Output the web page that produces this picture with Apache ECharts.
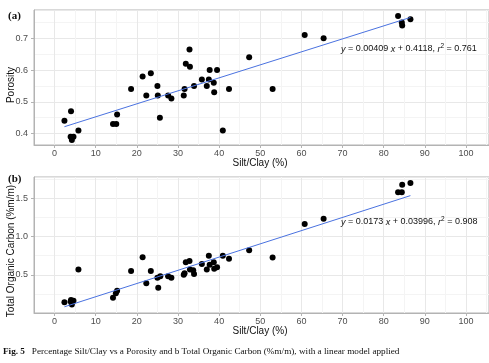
<!DOCTYPE html>
<html>
<head>
<meta charset="utf-8">
<script src="https://cdn.jsdelivr.net/npm/echarts@6/dist/echarts.min.js"></script>
<style>html,body{margin:0;padding:0;background:#fff;}#c{width:489px;height:363px;}</style>
</head>
<body>
<div id="c"></div>
<script>
// ---- data ----
const xTicks = [0, 10, 20, 30, 40, 50, 60, 70, 80, 90, 100];
const yTicksA = [0.4, 0.5, 0.6, 0.7];
const yTicksB = [0.5, 1.0, 1.5];

const siltA = [2.4, 4.0, 3.9, 4.6, 4.2, 5.8, 14.2, 15.0, 15.2, 18.6, 21.4, 22.3, 23.4, 25.0, 25.1, 25.6, 27.6, 28.4,
  31.4, 31.6, 31.9, 32.8, 32.9, 33.9, 35.8, 37.0, 37.5, 37.7, 38.7, 38.8, 39.5, 40.9, 42.4, 47.3, 53.0, 60.8, 65.4,
  83.5, 84.4, 84.5, 86.5];
const porosity = [0.44, 0.47, 0.39, 0.39, 0.38, 0.41, 0.43, 0.43, 0.46, 0.54, 0.58, 0.52, 0.59, 0.55, 0.52, 0.45, 0.52, 0.51,
  0.52, 0.54, 0.62, 0.665, 0.61, 0.55, 0.57, 0.55, 0.57, 0.60, 0.56, 0.53, 0.60, 0.41, 0.54, 0.64, 0.54, 0.71, 0.70,
  0.77, 0.75, 0.74, 0.76];

const siltB = [2.4, 4.0, 3.9, 4.6, 4.2, 5.8, 14.2, 14.9, 15.2, 18.6, 21.4, 22.3, 23.4, 25.0, 25.2, 25.7, 27.6, 28.4,
  31.4, 31.6, 31.9, 32.8, 32.9, 33.7, 33.9, 35.8, 37.0, 37.5, 37.7, 38.7, 38.8, 39.5, 40.9, 42.4, 47.3, 53.0, 60.8, 65.4,
  83.5, 84.4, 84.5, 86.5];
const toc = [0.14, 0.17, 0.15, 0.16, 0.11, 0.57, 0.20, 0.26, 0.29, 0.55, 0.73, 0.39, 0.55, 0.46, 0.33, 0.48, 0.48, 0.46,
  0.50, 0.52, 0.665, 0.68, 0.57, 0.56, 0.51, 0.64, 0.57, 0.75, 0.63, 0.665, 0.58, 0.60, 0.75, 0.71, 0.82, 0.725, 1.165, 1.235,
  1.58, 1.58, 1.68, 1.70];

// linear models printed on the chart: [slope, intercept, r2]
const fitA = [0.00409, 0.4118, 0.761];
const fitB = [0.0173, 0.03996, 0.908];

// ---- build ----
function pairs(xs, ys) { return xs.map((x, i) => [x, ys[i]]); }
function fitLine(xs, f) {
  const lo = Math.min(...xs), hi = Math.max(...xs);
  return [[lo, f[0] * lo + f[1]], [hi, f[0] * hi + f[1]]];
}

const MAJOR = '#e8e8e8', MINOR = '#f4f4f4', BORDER = '#b3b3b3', LAB = '#4d4d4d';
const FONT = 'Liberation Sans';

function visX(gi) {
  return {
    type: 'value', gridIndex: gi, min: -5, max: 105.6, position: 'bottom',
    axisLine: { show: true, onZero: false, lineStyle: { color: BORDER, width: 1 } },
    axisTick: { show: true, length: 3, customValues: xTicks, lineStyle: { color: BORDER } },
    axisLabel: { customValues: xTicks, color: LAB, fontSize: 9, fontFamily: FONT, margin: 4 },
    splitLine: { show: false }
  };
}
function gridX(gi) {
  return {
    type: 'value', gridIndex: gi, min: -5, max: 105.6, interval: 5, position: 'top',
    axisLine: { show: false, onZero: false }, axisTick: { show: false }, axisLabel: { show: false },
    splitLine: { show: true, lineStyle: { color: [MINOR, MAJOR], width: 1 } }
  };
}
function visY(gi, mn, mx, ticks, dec) {
  return {
    type: 'value', gridIndex: gi, min: mn, max: mx, position: 'left',
    axisLine: { show: true, onZero: false, lineStyle: { color: BORDER, width: 1 } },
    axisTick: { show: true, length: 3, customValues: ticks, lineStyle: { color: BORDER } },
    axisLabel: { customValues: ticks, color: LAB, fontSize: 9, fontFamily: FONT, margin: 6,
      formatter: v => Number(v).toFixed(dec) },
    splitLine: { show: false }
  };
}

const eqStyle = {
  n: { fontSize: 9, fontFamily: FONT, fill: '#111' },
  i: { fontSize: 9, fontFamily: FONT, fontStyle: 'italic', fill: '#111' },
  s: { fontSize: 6.5, fontFamily: FONT, fill: '#111', verticalAlign: 'top', padding: [0, 0, 5, 0] }
};
function eqText(f) {
  return '{i|y}{n| = ' + f[0] + ' }{i|x}{n| + ' + f[1] + ', }{i|r}{s|2}{n| = ' + f[2] + '}';
}

const chart = echarts.init(document.getElementById('c'), null, { renderer: 'canvas' });
chart.setOption({
  backgroundColor: '#fff',
  animation: false,
  grid: [
    { left: 34, top: 10, right: 0, height: 135, show: true, borderColor: BORDER, borderWidth: 1, backgroundColor: '#fff' },
    { left: 34, top: 177, right: 0, height: 136, show: true, borderColor: BORDER, borderWidth: 1, backgroundColor: '#fff' }
  ],
  xAxis: [visX(0), gridX(0), visX(1), gridX(1)],
  yAxis: [
    visY(0, 0.364, 0.789, yTicksA, 1),
    { type: 'value', gridIndex: 0, min: 0.364, max: 0.789, splitNumber: 9, position: 'right',
      axisLine: { show: false, onZero: false }, axisTick: { show: false }, axisLabel: { show: false },
      splitLine: { show: true, lineStyle: { color: [MINOR, MAJOR], width: 1 } } },
    visY(1, 0, 1.78, yTicksB, 1),
    { type: 'value', gridIndex: 1, min: 0, max: 1.78, interval: 0.25, position: 'right',
      axisLine: { show: false, onZero: false }, axisTick: { show: false }, axisLabel: { show: false },
      splitLine: { show: true, lineStyle: { color: [MAJOR, MINOR], width: 1 } } }
  ],
  series: [
    { type: 'scatter', xAxisIndex: 0, yAxisIndex: 0, data: pairs(siltA, porosity), symbolSize: 6,
      itemStyle: { color: '#000', opacity: 1 }, z: 3 },
    { type: 'line', xAxisIndex: 0, yAxisIndex: 0, data: fitLine(siltA, fitA), symbol: 'none',
      lineStyle: { color: '#4a72e0', width: 1 }, z: 4 },
    { type: 'scatter', xAxisIndex: 2, yAxisIndex: 2, data: pairs(siltB, toc), symbolSize: 6,
      itemStyle: { color: '#000', opacity: 1 }, z: 3 },
    { type: 'line', xAxisIndex: 2, yAxisIndex: 2, data: fitLine(siltB, fitB), symbol: 'none',
      lineStyle: { color: '#4a72e0', width: 1 }, z: 4 }
  ],
  graphic: [
    { type: 'text', left: 8, top: 11, style: { text: '(a)', font: 'bold 11px "Liberation Serif"', fill: '#111' } },
    { type: 'text', left: 8, top: 174, style: { text: '(b)', font: 'bold 11px "Liberation Serif"', fill: '#111' } },
    { type: 'text', x: 11, y: 85, rotation: Math.PI / 2,
      style: { text: 'Porosity', font: '10px "Liberation Sans"', fill: '#111', align: 'center', verticalAlign: 'middle' } },
    { type: 'text', x: 11, y: 251, rotation: Math.PI / 2,
      style: { text: 'Total Organic Carbon (%m/m)', font: '10px "Liberation Sans"', fill: '#111', align: 'center', verticalAlign: 'middle' } },
    { type: 'text', x: 260, y: 163.5,
      style: { text: 'Silt/Clay (%)', font: '10px "Liberation Sans"', fill: '#111', align: 'center', verticalAlign: 'middle' } },
    { type: 'text', x: 260, y: 331.5,
      style: { text: 'Silt/Clay (%)', font: '10px "Liberation Sans"', fill: '#111', align: 'center', verticalAlign: 'middle' } },
    { type: 'text', x: 341, y: 49, z: 10,
      style: { text: eqText(fitA), rich: eqStyle, verticalAlign: 'middle' } },
    { type: 'text', x: 341, y: 222, z: 10,
      style: { text: eqText(fitB), rich: eqStyle, verticalAlign: 'middle' } },
    { type: 'text', x: 3, y: 351.5,
      style: { text: '{b|Fig. 5}{r|   Percentage Silt/Clay vs a Porosity and b Total Organic Carbon (%m/m), with a linear model applied}',
        verticalAlign: 'middle',
        rich: { b: { fontFamily: 'Liberation Serif', fontWeight: 'bold', fontSize: 9.2, fill: '#111' },
                r: { fontFamily: 'Liberation Serif', fontSize: 9.2, fill: '#111' } } } }
  ]
});
</script>
</body>
</html>
